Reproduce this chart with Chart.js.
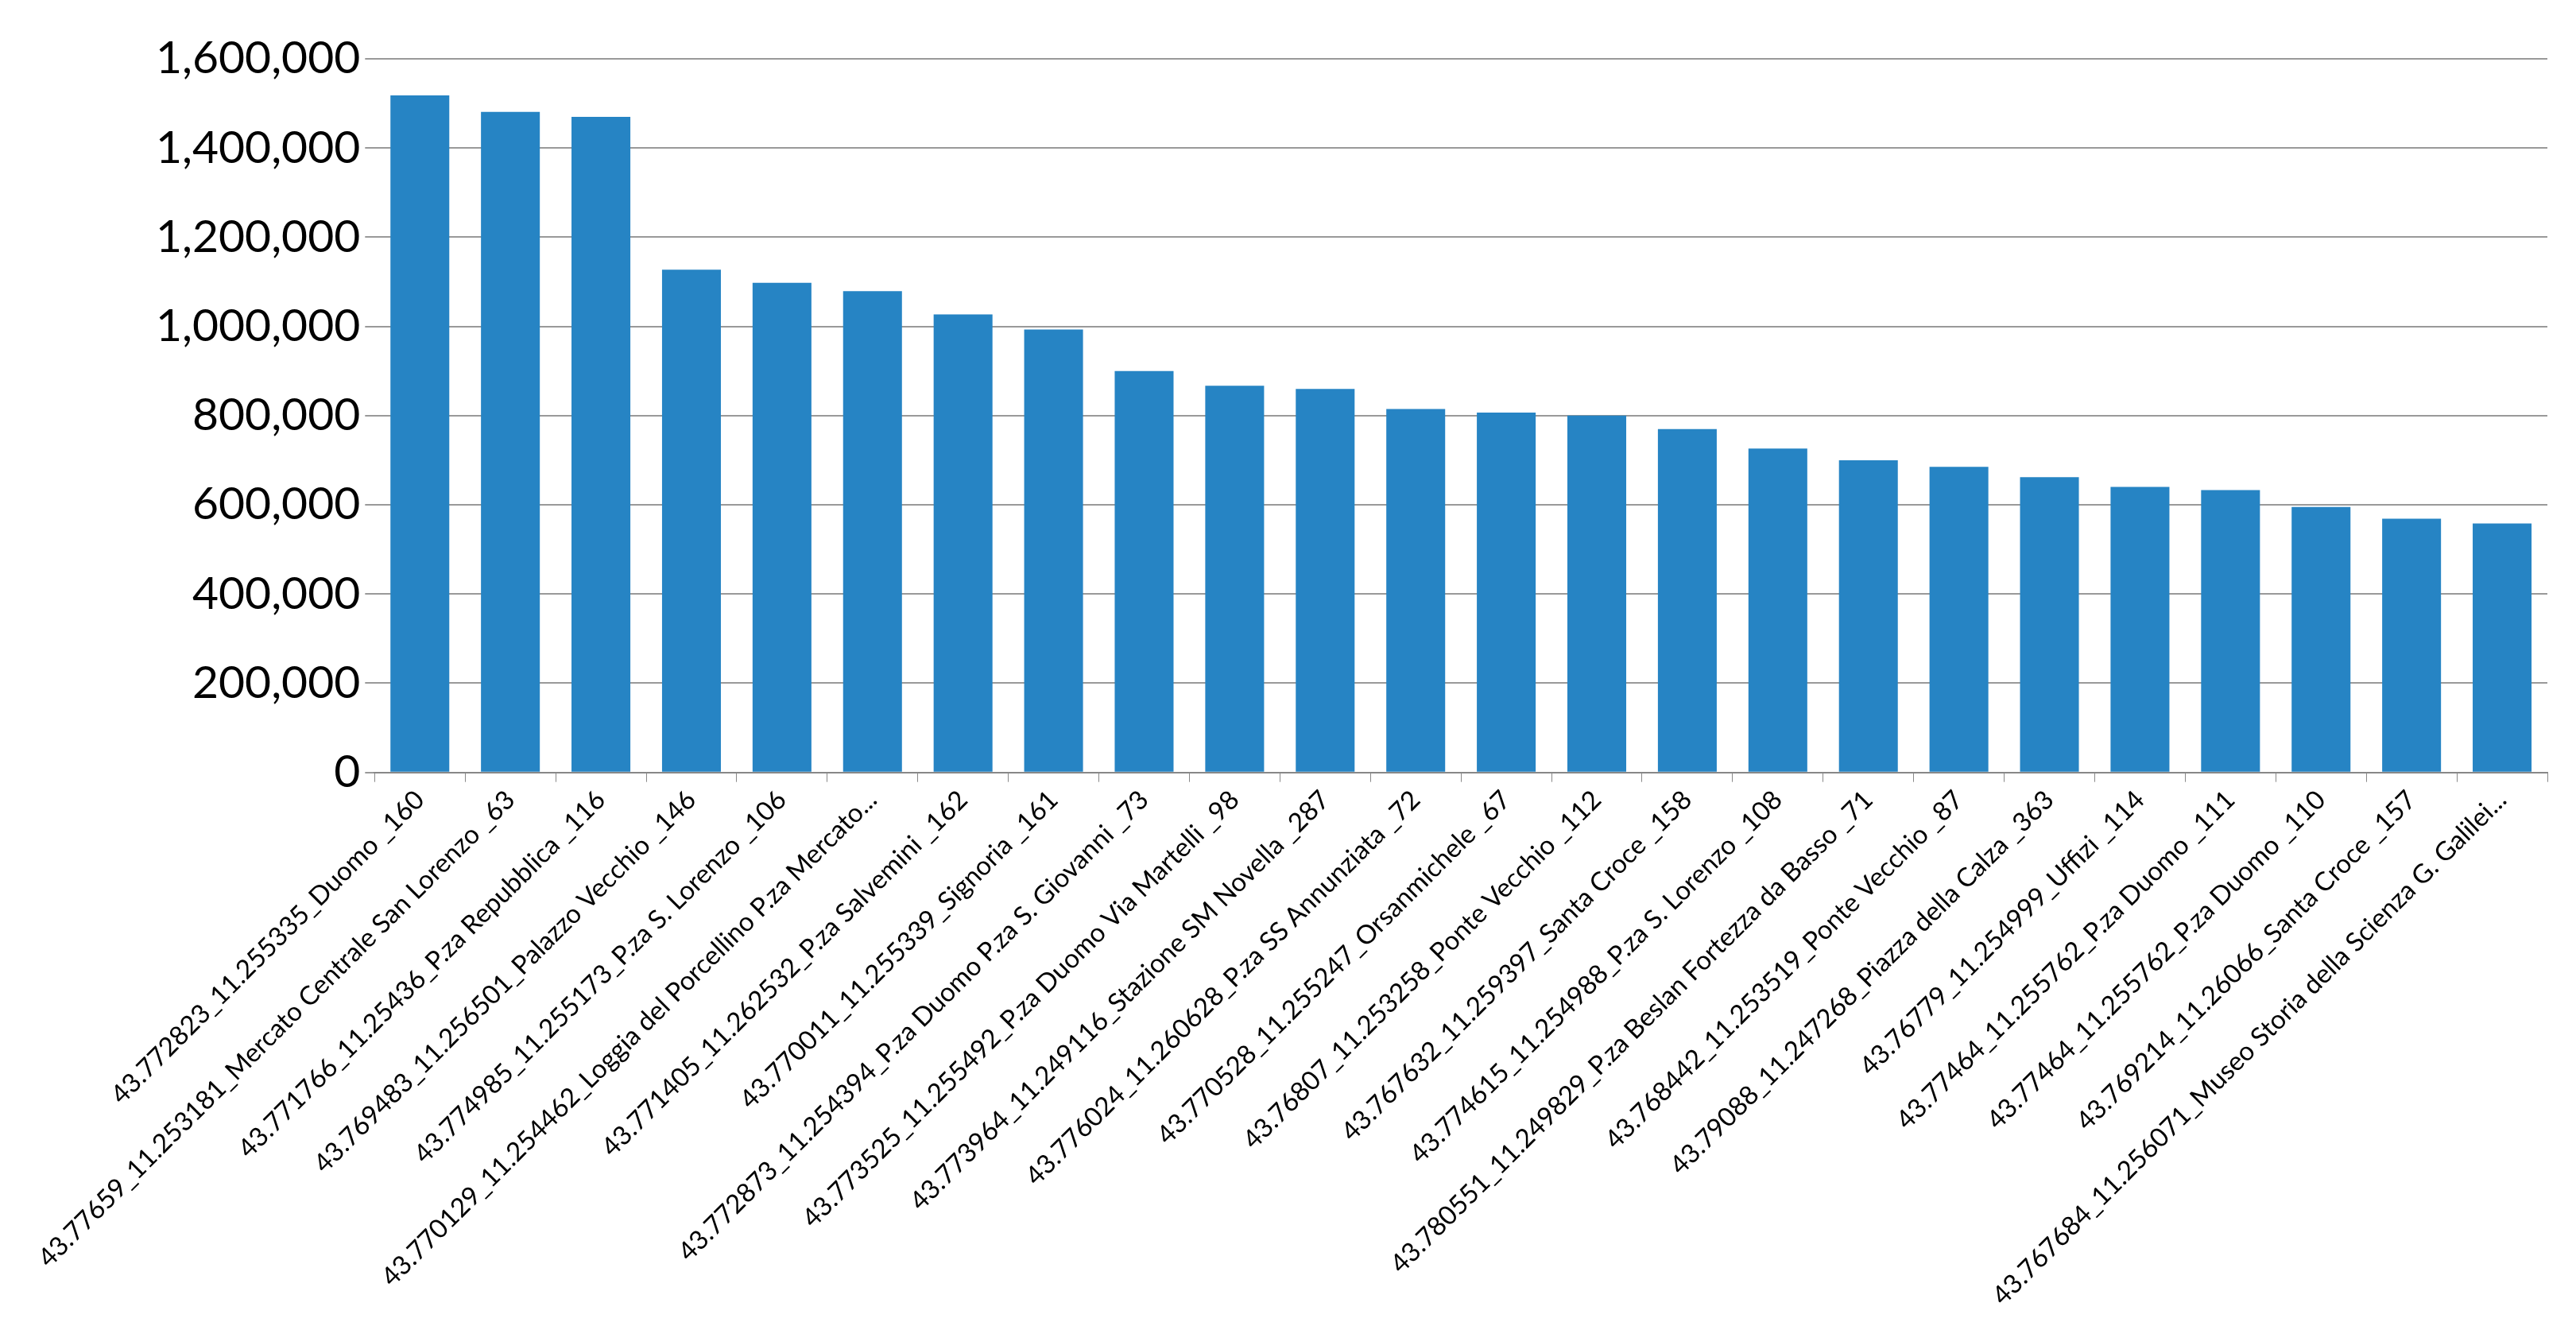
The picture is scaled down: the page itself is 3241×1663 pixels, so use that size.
<!DOCTYPE html>
<html>
<head>
<meta charset="utf-8">
<script src="https://cdn.jsdelivr.net/npm/chart.js@4/dist/chart.umd.min.js"></script>
<style>
html, body { margin: 0; padding: 0; background: #fff; }
#wrap { width: 3241px; height: 1663px; }
</style>
</head>
<body>
<div id="wrap"><canvas id="c" width="3241" height="1663"></canvas></div>
<script>
const locations = [
    '43.772823_11.255335_Duomo _160',
    '43.77659_11.253181_Mercato Centrale San Lorenzo _63',
    '43.771766_11.25436_P.za Repubblica _116',
    '43.769483_11.256501_Palazzo Vecchio _146',
    '43.774985_11.255173_P.za S. Lorenzo _106',
    '43.770129_11.254462_Loggia del Porcellino P.za Mercato...',
    '43.771405_11.262532_P.za Salvemini _162',
    '43.770011_11.255339_Signoria _161',
    '43.772873_11.254394_P.za Duomo P.za S. Giovanni _73',
    '43.773525_11.255492_P.za Duomo Via Martelli _98',
    '43.773964_11.249116_Stazione SM Novella _287',
    '43.776024_11.260628_P.za SS Annunziata _72',
    '43.770528_11.255247_Orsanmichele _67',
    '43.76807_11.253258_Ponte Vecchio _112',
    '43.767632_11.259397_Santa Croce _158',
    '43.774615_11.254988_P.za S. Lorenzo _108',
    '43.780551_11.249829_P.za Beslan Fortezza da Basso _71',
    '43.768442_11.253519_Ponte Vecchio _87',
    '43.79088_11.247268_Piazza della Calza _363',
    '43.76779_11.254999_Uffizi _114',
    '43.77464_11.255762_P.za Duomo _111',
    '43.77464_11.255762_P.za Duomo _110',
    '43.769214_11.26066_Santa Croce _157',
    '43.767684_11.256071_Museo Storia della Scienza G. Galilei...'
];

const visits = [
    1518000, 1481000, 1470000, 1127000, 1098000, 1079000, 1027000, 993000,
    900000, 867000, 860000, 815000, 807000, 800000, 770000, 726000,
    700000, 685000, 662000, 640000, 633000, 595000, 569000, 558000
];

const yTicks = [0, 200000, 400000, 600000, 800000, 1000000, 1200000, 1400000, 1600000];

const config = {
    type: 'bar',
    data: {
        labels: locations,
        datasets: [{
            data: visits,
            backgroundColor: 'rgb(38, 132, 196)',
            barPercentage: 0.65,
            categoryPercentage: 1.0
        }]
    },
    options: {
        responsive: false,
        animation: false,
        devicePixelRatio: 1,
        layout: { padding: { left: 190, right: 36, top: 74, bottom: 10 } },
        scales: {
            x: {
                grid: { display: true, drawOnChartArea: false, offset: true, color: '#888', tickLength: 12 },
                border: { color: '#888', width: 2 },
                ticks: {
                    minRotation: 45,
                    maxRotation: 45,
                    autoSkip: false,
                    color: '#000',
                    font: { family: 'Lato', size: 33 }
                }
            },
            y: {
                min: 0,
                max: 1600000,
                afterBuildTicks: axis => { axis.ticks = yTicks.map(v => ({ value: v })); },
                grid: { color: '#999', lineWidth: 2, tickLength: 12 },
                border: { display: false },
                ticks: {
                    color: '#000',
                    padding: 6,
                    font: { family: 'Lato', size: 57 },
                    callback: v => v.toLocaleString('en-US')
                }
            }
        },
        plugins: {
            legend: { display: false },
            tooltip: { enabled: false }
        }
    }
};

new Chart(document.getElementById('c'), config);
</script>
</body>
</html>
